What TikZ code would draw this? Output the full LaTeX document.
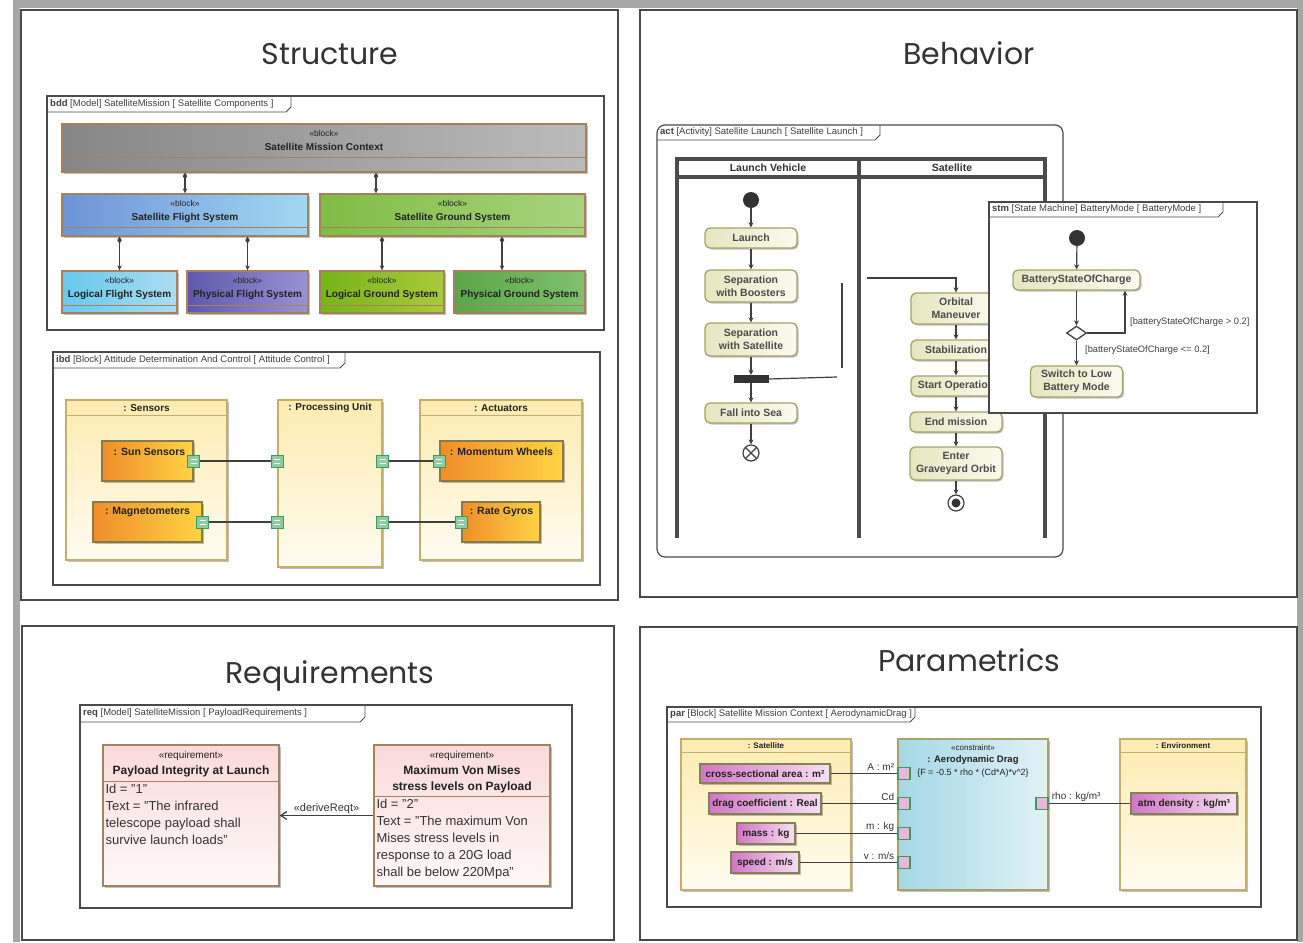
\documentclass[tikz,border=0pt]{standalone}
\usepackage{fontspec}
\setmainfont{Liberation Sans}
\newfontfamily\titlefont{Poppins}
\usetikzlibrary{positioning,arrows.meta,shapes.geometric,shadows}

\definecolor{panelgray}{HTML}{A6A6A6}
\definecolor{framegray}{HTML}{4A4A4A}
\definecolor{blkbrown}{HTML}{A4825E}
\definecolor{khaki}{HTML}{C4AE6A}
\definecolor{olive}{HTML}{A3A36A}
\definecolor{portgreen}{HTML}{3E9B5E}
\definecolor{portfill}{HTML}{8ECDA2}
\definecolor{ylwA}{HTML}{FDEBB0}
\definecolor{ylwB}{HTML}{FFFCF0}
\definecolor{orgA}{HTML}{EF8E2A}
\definecolor{orgB}{HTML}{FFD444}
\definecolor{grayA}{HTML}{868686}
\definecolor{grayB}{HTML}{BBBBBB}
\definecolor{blueA}{HTML}{6C93D6}
\definecolor{blueB}{HTML}{A2D8F2}
\definecolor{greenA}{HTML}{80BC44}
\definecolor{greenB}{HTML}{A8D37E}
\definecolor{cyanA}{HTML}{68C8EE}
\definecolor{cyanB}{HTML}{AADDF0}
\definecolor{purpA}{HTML}{5E58AC}
\definecolor{purpB}{HTML}{9A92D2}
\definecolor{limeA}{HTML}{76B41A}
\definecolor{limeB}{HTML}{ABC93C}
\definecolor{grnA}{HTML}{5AA648}
\definecolor{grnB}{HTML}{80C16E}
\definecolor{actA}{HTML}{E6E6C0}
\definecolor{actB}{HTML}{FBFBEE}
\definecolor{reqA}{HTML}{FADADA}
\definecolor{reqB}{HTML}{FFF8F8}
\definecolor{consA}{HTML}{A4D8E6}
\definecolor{consB}{HTML}{E2F2F6}
\definecolor{vpA}{HTML}{D276C6}
\definecolor{vpB}{HTML}{F7E0F2}
\definecolor{vpport}{HTML}{EBB6DC}
\definecolor{ink}{HTML}{222222}

\newcommand\stereo[2][8.5]{{\mdseries\fontsize{#1}{10}\selectfont «#2»}}

\tikzset{
  panel/.style={draw=framegray, line width=1.6pt, fill=white},
  ptitle/.style={font=\titlefont\fontsize{30}{34}\selectfont, text=black!80, anchor=base, inner sep=0pt},
  frame/.style={draw=framegray, line width=1.2pt, fill=white},
  tab/.style={draw=framegray, line width=0.8pt},
  tabtext/.style={font=\fontsize{9.5}{11}\selectfont, text=black!75, inner sep=0pt, anchor=west},
  shade/.style={drop shadow={shadow xshift=1.5pt, shadow yshift=-1.5pt, fill=black, opacity=0.25}},
  blk/.style={draw=blkbrown, line width=1.3pt, inner sep=0pt, shade},
  blktext/.style={font=\bfseries\fontsize{10}{14}\selectfont, align=center, text=ink, inner sep=0pt},
  cmpline/.style={draw=blkbrown, line width=1pt},
  comp/.style={draw=black!75, line width=1.3pt, {Diamond[length=7pt,width=4.5pt]}-{Stealth[length=5pt,width=4.5pt]}},
  ylw/.style={draw=khaki, line width=1.3pt, top color=ylwA, bottom color=ylwB, inner sep=0pt, shade},
  hdrline/.style={draw=khaki, line width=1pt},
  hdrtext/.style={font=\bfseries\fontsize{10}{12}\selectfont, text=ink, inner sep=0pt},
  parttext/.style={font=\bfseries\fontsize{10.5}{12}\selectfont, text=ink, inner sep=0pt},
  part/.style={draw=khaki!70!black, line width=1.3pt, left color=orgA, right color=orgB, inner sep=0pt, shade},
  port/.style={draw=portgreen, fill=portfill, line width=1pt, minimum size=12pt, inner sep=0pt,
    path picture={
      \draw[white, line width=0.8pt] ([xshift=3pt,yshift=2pt]path picture bounding box.west) -- ([xshift=-3pt,yshift=2pt]path picture bounding box.east);
      \draw[white, line width=0.8pt] ([xshift=3pt,yshift=-2pt]path picture bounding box.west) -- ([xshift=-3pt,yshift=-2pt]path picture bounding box.east);}},
  conn/.style={draw=black!75, line width=1.4pt},
  lane/.style={draw=black!70, line width=3.5pt},
  lanetext/.style={font=\bfseries\fontsize{10.5}{12}\selectfont, text=black!80, inner sep=0pt},
  actn/.style={draw=olive, line width=1.3pt, rounded corners=5pt, left color=actA, right color=actB,
    font=\bfseries\fontsize{10.5}{13}\selectfont, text=black!70, align=center, inner sep=0pt, shade},
  init/.style={circle, fill=black!80, minimum size=16pt, inner sep=0pt},
  flowfinal/.style={circle, draw=black!75, line width=1.2pt, fill=white, minimum size=16pt, inner sep=0pt,
    path picture={
      \draw[black!75, line width=1.2pt] (path picture bounding box.north west) -- (path picture bounding box.south east);
      \draw[black!75, line width=1.2pt] (path picture bounding box.north east) -- (path picture bounding box.south west);}},
  actfinal/.style={circle, draw=black!75, line width=1.2pt, fill=white, minimum size=16pt, inner sep=0pt,
    path picture={\fill[black!80] (path picture bounding box.center) circle (4.5pt);}},
  forkbar/.style={fill=black!80, minimum width=35pt, minimum height=8pt, inner sep=0pt},
  flow/.style={draw=black!75, line width=1.2pt, -{Stealth[length=5pt,width=5pt]}},
  decision/.style={diamond, draw=black!75, line width=1.3pt, fill=white, minimum width=20pt, minimum height=14pt, inner sep=0pt},
  guard/.style={font=\fontsize{9.3}{11}\selectfont, text=black!75, inner sep=0pt, anchor=west},
  reqbox/.style={draw=blkbrown, line width=1.3pt, top color=reqA, bottom color=reqB, inner sep=0pt, shade},
  reqhead/.style={font=\bfseries\fontsize{12}{16.5}\selectfont, align=center, text=ink, inner sep=0pt},
  reqbody/.style={font=\fontsize{13}{16.8}\selectfont, align=left, text=black!80, inner sep=0pt, anchor=north west},
  derive/.style={draw=black!75, line width=1.3pt, -{Straight Barb[length=6pt,width=8pt]}},
  smalltext/.style={font=\fontsize{10}{12}\selectfont, text=black!80, inner sep=1pt},
  consblk/.style={draw=olive, line width=1.3pt, left color=consA, right color=consB, inner sep=0pt, shade},
  constext/.style={font=\bfseries\fontsize{9.5}{12.5}\selectfont, align=center, text=ink, inner sep=0pt},
  vprop/.style={draw=olive!80!black, line width=1.3pt, left color=vpA, right color=vpB,
    font=\bfseries\fontsize{10}{12}\selectfont, text=ink, inner sep=0pt, shade},
  vport/.style={draw=portgreen, fill=vpport, line width=1.2pt, minimum size=12pt, inner sep=0pt}
}

\begin{document}
\begin{tikzpicture}[x=1pt,y=-1pt]

  % background and the four panels
  \useasboundingbox (0,0) rectangle (1303,942);
  \fill[panelgray] (13,0) rectangle (1303,942);
  \fill[white] (20,8) rectangle (1297,942);
  \draw[panel] (21,10) rectangle (618,600);
  \draw[panel] (640,10) rectangle (1297,597);
  \draw[panel] (22,626) rectangle (614,940);
  \draw[panel] (640,627) rectangle (1297,940);

  \node[ptitle] (tStruct) at (330,64) {Structure};
  \node[ptitle] (tBehav) at (969,64) {Behavior};
  \node[ptitle] (tReq) at (330,683) {Requirements};
  \node[ptitle] (tPar) at (969,671) {Parametrics};

  %%% bdd
  \draw[frame] (47,96) rectangle (604,330);
  \draw[tab] (47,112) -- (286,112) -- (291,107) -- (291,96);
  \node[tabtext] (bddTab) at (50,104) {\textbf{bdd} [Model] SatelliteMission [ Satellite Components ]};

  \node[blk, left color=grayA, right color=grayB, minimum width=524pt, minimum height=48pt] (smc) at (324,148) {};
  \draw[cmpline] ([yshift=15pt]smc.south west) -- ([yshift=15pt]smc.south east);
  \node[blktext] (smcT) at (324,140) {\stereo{block}\\Satellite Mission Context};

  \node[blk, left color=blueA, right color=blueB, minimum width=246pt, minimum height=42pt] (sfs) at (185,215) {};
  \draw[cmpline] ([yshift=9pt]sfs.south west) -- ([yshift=9pt]sfs.south east);
  \node[blktext] (sfsT) at (185,211) {\stereo{block}\\Satellite Flight System};

  \node[blk, left color=greenA, right color=greenB, minimum width=265pt, minimum height=42pt] (sgs) at (452.5,215) {};
  \draw[cmpline] ([yshift=9pt]sgs.south west) -- ([yshift=9pt]sgs.south east);
  \node[blktext] (sgsT) at (452.5,211) {\stereo{block}\\Satellite Ground System};

  \node[blk, left color=cyanA, right color=cyanB, minimum width=115pt, minimum height=42pt] (lfs) at (119.5,292) {};
  \draw[cmpline] ([yshift=8pt]lfs.south west) -- ([yshift=8pt]lfs.south east);
  \node[blktext] (lfsT) at (119.5,288) {\stereo{block}\\Logical Flight System};

  \node[blk, left color=purpA, right color=purpB, minimum width=121pt, minimum height=42pt] (pfs) at (247.5,292) {};
  \draw[cmpline] ([yshift=8pt]pfs.south west) -- ([yshift=8pt]pfs.south east);
  \node[blktext] (pfsT) at (247.5,288) {\stereo{block}\\Physical Flight System};

  \node[blk, left color=limeA, right color=limeB, minimum width=124pt, minimum height=42pt] (lgs) at (382,292) {};
  \draw[cmpline] ([yshift=8pt]lgs.south west) -- ([yshift=8pt]lgs.south east);
  \node[blktext] (lgsT) at (382,288) {\stereo{block}\\Logical Ground System};

  \node[blk, left color=grnA, right color=grnB, minimum width=131pt, minimum height=42pt] (pgs) at (519.5,292) {};
  \draw[cmpline] ([yshift=8pt]pgs.south west) -- ([yshift=8pt]pgs.south east);
  \node[blktext] (pgsT) at (519.5,288) {\stereo{block}\\Physical Ground System};

  \coordinate (sgsIn) at ([xshift=-76.5pt]sgs.north);
  \coordinate (pgsIn) at ([xshift=-17.5pt]pgs.north);
  \draw[comp] (smc.south -| sfs.north) -- (sfs.north);
  \draw[comp] (smc.south -| sgsIn) -- (sgsIn);
  \draw[comp] (sfs.south -| lfs.north) -- (lfs.north);
  \draw[comp] (sfs.south -| pfs.north) -- (pfs.north);
  \draw[comp] (sgs.south -| lgs.north) -- (lgs.north);
  \draw[comp] (sgs.south -| pgsIn) -- (pgsIn);

  %%% ibd
  \draw[frame] (53,352) rectangle (600,585);
  \draw[tab] (53,368) -- (340,368) -- (345,363) -- (345,352);
  \node[tabtext] (ibdTab) at (56,360) {\textbf{ibd} [Block] Attitude Determination And Control [ Attitude Control ]};

  \node[ylw, minimum width=161pt, minimum height=160pt] (sen) at (146.5,480) {};
  \draw[hdrline] ([yshift=-16pt]sen.north west) -- ([yshift=-16pt]sen.north east);
  \node[hdrtext] (senT) at (146.5,408) {: Sensors};
  \node[ylw, minimum width=104pt, minimum height=167pt] (pu) at (330,483.5) {};
  \node[hdrtext] (puT) at (330,408) {: Processing Unit};
  \node[ylw, minimum width=162pt, minimum height=160pt] (actu) at (501,480) {};
  \draw[hdrline] ([yshift=-16pt]actu.north west) -- ([yshift=-16pt]actu.north east);
  \node[hdrtext] (actuT) at (501,408) {: Actuators};

  \node[part, minimum width=91pt, minimum height=40pt] (sun) at (147.5,461) {};
  \node[parttext] (sunT) at (149.5,452) {: Sun Sensors};
  \node[part, minimum width=109pt, minimum height=40pt] (mag) at (147.5,522) {};
  \node[parttext] (magT) at (147.5,512) {: Magnetometers};
  \node[part, minimum width=123pt, minimum height=40pt] (mw) at (501.5,461) {};
  \node[parttext] (mwT) at (501.5,452) {: Momentum Wheels};
  \node[part, minimum width=78pt, minimum height=40pt] (rg) at (501,522) {};
  \node[parttext] (rgT) at (501.5,512) {: Rate Gyros};

  \node[port] (pSun) at (sun.east) {};
  \node[port] (pPu1) at (pu.west |- pSun) {};
  \node[port] (pPu2) at (pu.east |- pSun) {};
  \node[port] (pMw) at (mw.west) {};
  \node[port] (pMag) at (mag.east) {};
  \node[port] (pPu3) at (pu.west |- pMag) {};
  \node[port] (pPu4) at (pu.east |- pMag) {};
  \node[port] (pRg) at (rg.west) {};
  \draw[conn] (pSun) -- (pPu1);
  \draw[conn] (pPu2) -- (pMw);
  \draw[conn] (pMag) -- (pPu3);
  \draw[conn] (pPu4) -- (pRg);

  %%% act
  \draw[frame, rounded corners=8pt] (657,125) rectangle (1063,557);
  \draw[tab] (657,140) -- (875,140) -- (880,135) -- (880,125);
  \node[tabtext] (actTab) at (660,132.5) {\textbf{act} [Activity] Satellite Launch [ Satellite Launch ]};

  \draw[lane] (677,538) -- (677,159) -- (1045,159) -- (1045,538);
  \draw[lane] (859,159) -- (859,538);
  \draw[lane] (677,177) -- (1045,177);
  \node[lanetext] (lvT) at (768,168) {Launch Vehicle};
  \node[lanetext] (satT) at (952,168) {Satellite};

  \node[init] (ini1) at (751,200) {};
  \node[actn, minimum width=92pt, minimum height=20pt] (launch) at (751,238) {Launch};
  \node[actn, minimum width=92pt, minimum height=32pt] (sepB) at (751,286) {Separation\\with Boosters};
  \node[actn, minimum width=92pt, minimum height=33pt] (sepS) at (751,339.5) {Separation\\with Satellite};
  \node[forkbar] (fork) at (751,379) {};
  \node[actn, minimum width=92pt, minimum height=20pt] (fall) at (751,413) {Fall into Sea};
  \node[flowfinal] (ffin) at (751,453) {};

  \node[actn, minimum width=90pt, minimum height=31pt] (om) at (956,308.5) {Orbital\\Maneuver};
  \node[actn, minimum width=90pt, minimum height=20pt] (stab) at (956,350) {Stabilization};
  \node[actn, minimum width=90pt, minimum height=20pt] (sop) at (956,386) {Start Operation};
  \node[actn, minimum width=92pt, minimum height=20pt] (em) at (956,422) {End mission};
  \node[actn, minimum width=92pt, minimum height=33pt] (ego) at (956,463.5) {Enter\\Graveyard Orbit};
  \node[actfinal] (afin) at (956,503) {};

  \draw[flow] (ini1) -- (launch);
  \draw[flow] (launch) -- (sepB);
  \draw[flow] (sepB) -- (sepS);
  \draw[flow] (sepS) -- (fork);
  \draw[flow] (fork) -- (fall);
  \draw[flow] (fall) -- (ffin);
  \draw[flow] (om) -- (stab);
  \draw[flow] (stab) -- (sop);
  \draw[flow] (sop) -- (em);
  \draw[flow] (em) -- (ego);
  \draw[flow] (ego) -- (afin);

  \coordinate (forkOut) at (837,377);
  \coordinate (vTop) at (842,283);
  \coordinate (vBot) at (842,368);
  \coordinate (omIn) at (867,278);
  \draw[conn, line width=1.2pt] (fork.east) -- (forkOut);
  \draw[conn, line width=1.2pt] (vTop) -- (vBot);
  \draw[flow] (omIn) -| (om.north);

  %%% stm
  \draw[frame] (989,202) rectangle (1257,413);
  \draw[tab] (989,217) -- (1218,217) -- (1223,212) -- (1223,202);
  \node[tabtext] (stmTab) at (992,209.5) {\textbf{stm} [State Machine] BatteryMode [ BatteryMode ]};

  \node[init] (ini2) at (1077,238) {};
  \node[actn, minimum width=127pt, minimum height=20pt] (bsoc) at (1076.5,280) {BatteryStateOfCharge};
  \node[decision] (dec) at (1076.5,333) {};
  \node[actn, minimum width=92pt, minimum height=31pt] (slb) at (1076.5,381.5) {Switch to Low\\Battery Mode};
  \draw[flow] (ini2) -- (bsoc);
  \draw[flow] (bsoc) -- (dec);
  \draw[flow] (dec) -- (slb);
  \draw[flow] (dec.east) -| ([xshift=48.5pt]bsoc.south);
  \node[guard] (gHi) at (1130,322) {[batteryStateOfCharge > 0.2]};
  \node[guard] (gLo) at (1085,350) {[batteryStateOfCharge <= 0.2]};

  %%% req
  \draw[frame] (80,705) rectangle (572,908);
  \draw[tab] (80,722) -- (360,722) -- (365,717) -- (365,705);
  \node[tabtext] (reqTab) at (83,713.5) {\textbf{req} [Model] SatelliteMission [ PayloadRequirements ]};

  \node[reqbox, minimum width=176pt, minimum height=141pt] (r1) at (191,815.5) {};
  \draw[cmpline] ([yshift=-37pt]r1.north west) -- ([yshift=-37pt]r1.north east);
  \node[reqhead] (r1T) at (191,764) {\stereo[10]{requirement}\\Payload Integrity at Launch};
  \node[reqbody, below right=40pt and 3pt of r1.north west] (r1B) {Id = "1"\\Text = "The infrared\\telescope payload shall\\survive launch loads"};

  \node[reqbox, minimum width=176pt, minimum height=141pt] (r2) at (462,815.5) {};
  \draw[cmpline] ([yshift=-52pt]r2.north west) -- ([yshift=-52pt]r2.north east);
  \node[reqhead, font=\bfseries\fontsize{12}{16}\selectfont] (r2T) at (462,772) {\stereo[10]{requirement}\\Maximum Von Mises\\stress levels on Payload};
  \node[reqbody, below right=55pt and 3pt of r2.north west] (r2B) {Id = "2"\\Text = "The maximum Von\\Mises stress levels in\\response to a 20G load\\shall be below 220Mpa"};

  \draw[derive] (r2) -- node[smalltext, above, font=\fontsize{11}{12}\selectfont] (drvT) {«deriveReqt»} (r1);

  %%% par
  \draw[frame] (667,707) rectangle (1261,907);
  \draw[tab] (667,722) -- (910,722) -- (915,717) -- (915,707);
  \node[tabtext] (parTab) at (670,714.5) {\textbf{par} [Block] Satellite Mission Context [ AerodynamicDrag ]};

  \node[ylw, minimum width=170pt, minimum height=151pt] (sat) at (766,814.5) {};
  \draw[hdrline] ([yshift=-14pt]sat.north west) -- ([yshift=-14pt]sat.north east);
  \node[hdrtext, font=\bfseries\fontsize{8}{9}\selectfont] (satBT) at (766,746) {: Satellite};
  \node[consblk, minimum width=150pt, minimum height=151pt] (cons) at (973,814.5) {};
  \node[constext] (consT) at (973,761) {\stereo[8]{constraint}\\: Aerodynamic Drag\\{\mdseries\fontsize{9}{12.5}\selectfont\{F = -0.5 * rho * (Cd*A)*v\textasciicircum 2\}}};
  \node[ylw, minimum width=126pt, minimum height=151pt] (env) at (1183,814.5) {};
  \draw[hdrline] ([yshift=-14pt]env.north west) -- ([yshift=-14pt]env.north east);
  \node[hdrtext, font=\bfseries\fontsize{8}{9}\selectfont] (envT) at (1183,746) {: Environment};

  \node[vprop, minimum width=130pt, minimum height=19pt] (vArea) at (765,773.5) {cross-sectional area : m²};
  \node[vprop, minimum width=112pt, minimum height=21pt] (vCd) at (765,803.5) {drag coefficient : Real};
  \node[vprop, minimum width=58pt, minimum height=21pt] (vMass) at (766,833.5) {mass : kg};
  \node[vprop, minimum width=68pt, minimum height=21pt] (vSpeed) at (765,862.5) {speed : m/s};
  \node[vprop, minimum width=106pt, minimum height=21pt] (vRho) at (1184,803.5) {atm density : kg/m³};

  \node[vport, anchor=west] (qA) at (cons.west |- vArea) {};
  \node[vport, anchor=west] (qCd) at (cons.west |- vCd) {};
  \node[vport, anchor=west] (qM) at (cons.west |- vMass) {};
  \node[vport, anchor=west] (qV) at (cons.west |- vSpeed) {};
  \node[vport, anchor=east] (qRho) at (cons.east |- vRho) {};

  \draw[conn] (vArea) -- (qA);
  \draw[conn] (vCd) -- (qCd);
  \draw[conn] (vMass) -- (qM);
  \draw[conn] (vSpeed) -- (qV);
  \draw[conn] (qRho) -- (vRho);

  \node[smalltext, anchor=east] (lA) at ([xshift=-2pt,yshift=6pt]qA.west) {A : m²};
  \node[smalltext, anchor=east] (lCd) at ([xshift=-2pt,yshift=7pt]qCd.west) {Cd};
  \node[smalltext, anchor=east] (lM) at ([xshift=-2pt,yshift=7pt]qM.west) {m : kg};
  \node[smalltext, anchor=east] (lV) at ([xshift=-2pt,yshift=7pt]qV.west) {v : m/s};
  \node[smalltext, anchor=west] (lRho) at ([xshift=2pt,yshift=7pt]qRho.east) {rho : kg/m³};

\end{tikzpicture}
\end{document}
